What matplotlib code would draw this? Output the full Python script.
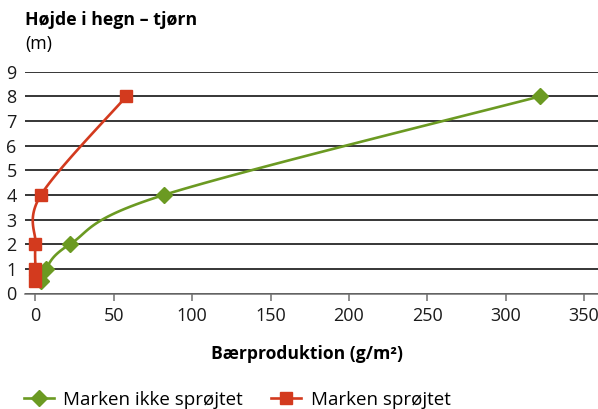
import numpy as np
import matplotlib
matplotlib.use("Agg")
import matplotlib.pyplot as plt

plt.rcParams['font.family'] = ['Open Sans', 'DejaVu Sans']

# data
hoejde = [0.5, 1, 2, 4, 8]
ikke_sproejtet = [3.5, 6.5, 22, 82, 322]
sproejtet = [0, 0, 0, 3.5, 58]

green = '#6b9a22'
red = '#d33a1e'


def smooth(xs, ys, sx, sy, n=30):
    # excel-like smoothed line (catmull-rom in screen scale)
    p = np.column_stack([np.array(xs) * sx, np.array(ys) * sy])
    p = np.vstack([p[0], p, p[-1]])
    out = []
    for i in range(1, len(p) - 2):
        p0, p1, p2, p3 = p[i - 1], p[i], p[i + 1], p[i + 2]
        t = np.linspace(0, 1, n)[:, None]
        c1 = p1 + (p2 - p0) / 6
        c2 = p2 - (p3 - p1) / 6
        seg = ((1 - t) ** 3) * p1 + 3 * ((1 - t) ** 2) * t * c1 + 3 * (1 - t) * t ** 2 * c2 + t ** 3 * p2
        out.append(seg)
    out = np.vstack(out)
    return out[:, 0] / sx, out[:, 1] / sy


fig = plt.figure(figsize=(5.98, 4.09), dpi=100)
ax = fig.add_axes([25 / 598, 1 - 293.5 / 409, 573 / 598, 221.8 / 409])

sx, sy = 1.565, 24.6
gx, gy = smooth(ikke_sproejtet, hoejde, sx, sy)
rx, ry = smooth(sproejtet, hoejde, sx, sy)

ax.plot(gx, gy, color=green, lw=1.9, zorder=3)
ax.plot(ikke_sproejtet, hoejde, ls='none', marker='D', ms=8, color=green, zorder=4)
ax.plot(rx, ry, color=red, lw=1.9, zorder=3)
ax.plot(sproejtet, hoejde, ls='none', marker='s', ms=8.5, color=red, zorder=4)

ax.set_xlim(-6.7, 359)
ax.set_ylim(0, 9)
ax.set_yticks(range(0, 10))
ax.set_xticks(range(0, 351, 50))
ax.grid(axis='y', color='black', lw=1.1)
ax.set_axisbelow(True)
for s in ['top', 'right', 'left']:
    ax.spines[s].set_visible(False)
ax.spines['bottom'].set_color('#707070')
ax.spines['bottom'].set_linewidth(1.1)
ax.tick_params(axis='y', length=0, labelsize=13, pad=6, labelcolor='#1a1a1a')
ax.tick_params(axis='x', length=5, width=1.1, color='#707070', labelsize=13, pad=5, labelcolor='#1a1a1a')

fig.text(25 / 598, 1 - 20 / 409, 'Højde i hegn – tjørn', fontsize=12.8, fontweight='bold', va='center', ha='left')
fig.text(25 / 598, 1 - 44 / 409, '(m)', fontsize=12.8, va='center', ha='left')
fig.text(307 / 598, 1 - 354 / 409, 'Bærproduktion (g/m²)', fontsize=12.6, fontweight='bold', va='center', ha='center')

h1, = ax.plot([], [], color=green, lw=1.9, marker='D', ms=8)
h2, = ax.plot([], [], color=red, lw=1.9, marker='s', ms=8.5)
fig.legend([h1, h2], ['Marken ikke sprøjtet', 'Marken sprøjtet'], loc='center left',
           bbox_to_anchor=(24 / 598, 1 - 400 / 409), ncol=2, frameon=False, borderpad=0,
           borderaxespad=0, fontsize=13.5, handlelength=1.6, columnspacing=1.5,
           handletextpad=0.5)

fig.savefig('out.png', dpi=100)
